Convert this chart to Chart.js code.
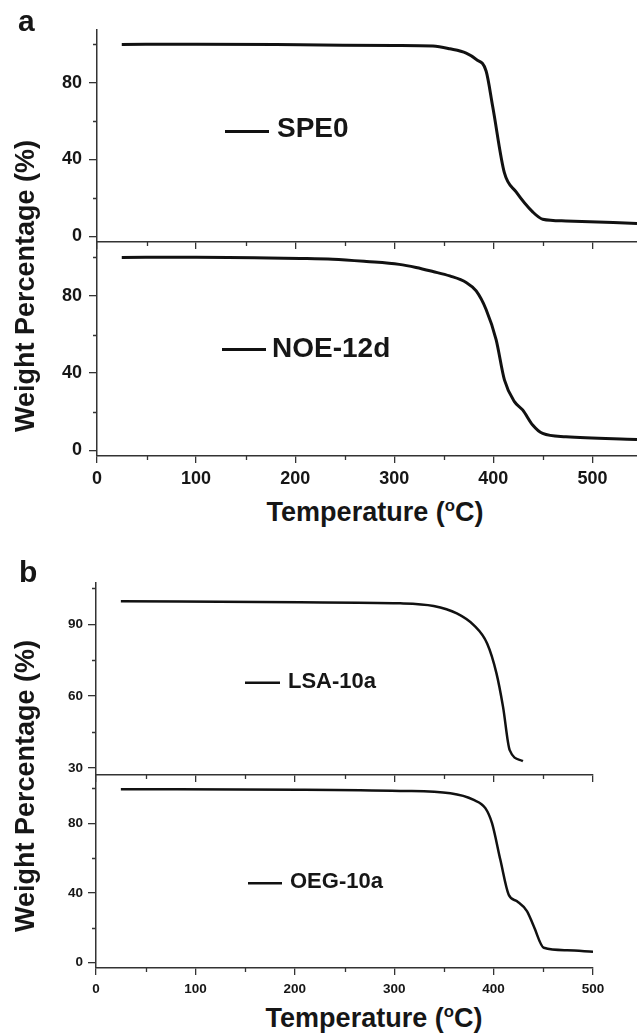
<!DOCTYPE html>
<html>
<head>
<meta charset="utf-8">
<script src="https://cdn.jsdelivr.net/npm/chart.js@4.4.1/dist/chart.umd.min.js"></script>
<style>
    body { margin: 0; background: #fff; }
    #wrap { position: relative; width: 637px; height: 1035px; overflow: hidden; font-family: "Liberation Sans", Arial, Helvetica, sans-serif; color: #161616; }
    canvas { position: absolute; left: 0; }
    .txt { position: absolute; font-weight: bold; line-height: 1; white-space: nowrap; }
    .ytitle { transform: translate(-50%, -50%) rotate(-90deg); }
    .xtitle { transform: translateX(-50%); }
    sup { font-size: 0.62em; line-height: 0; vertical-align: 0.62em; }
</style>
</head>
<body>
<div id="wrap">
    <canvas id="c1" width="637" height="252" style="top:0px"></canvas>
    <canvas id="c2" width="637" height="260" style="top:232px"></canvas>
    <canvas id="c3" width="637" height="232" style="top:553px"></canvas>
    <canvas id="c4" width="637" height="235" style="top:765px"></canvas>

    <div class="txt" style="left:18px; top:6px; font-size:30px;">a</div>
    <div class="txt" style="left:19px; top:557px; font-size:30px;">b</div>
    <div class="txt ytitle" style="left:25px; top:286px; font-size:27px;">Weight Percentage (%)</div>
    <div class="txt ytitle" style="left:25px; top:786px; font-size:27px;">Weight Percentage (%)</div>
    <div class="txt xtitle" style="left:375px; top:499px; font-size:27px;">Temperature (<sup>o</sup>C)</div>
    <div class="txt xtitle" style="left:374px; top:1005px; font-size:27px;">Temperature (<sup>o</sup>C)</div>
</div>
<script>
// TGA curves, temperature (°C) vs weight (%)
const spe0T = [25, 100, 205, 300, 339, 356, 372.6, 382.7, 392.7, 399.4, 411.2, 423, 439.7, 449.8, 473.3, 545];
const spe0W = [100, 100.1, 99.8, 99.4, 99.1, 97.7, 95.5, 92.2, 86.1, 67.5, 33, 23.1, 12.7, 8.9, 8.0, 6.7];

const noeT = [25, 100, 205, 238, 272, 305, 322, 339, 356, 372.6, 382.7, 392.7, 402.8, 411.2, 421.3, 429.6, 439.7, 449.8, 473.3, 545];
const noeW = [100, 100.1, 99.5, 99.1, 97.9, 96.4, 94.8, 92.7, 90.4, 87, 82.6, 73, 57.4, 36.5, 25.2, 20.9, 13.1, 8.7, 7, 5.6];

const lsaT = [25, 205, 306, 339.7, 363, 380, 393.5, 402.9, 409.5, 416.2, 429.5];
const lsaW = [99.7, 99.2, 98.8, 97.7, 94.6, 89.7, 82, 69.5, 55.5, 37.4, 32.8];

const oegT = [25, 205, 306, 356.5, 380, 391.7, 398.4, 406.8, 415.2, 423.6, 433.7, 440.4, 450.5, 474, 500];
const oegW = [99.4, 99.2, 98.5, 97.1, 93.3, 88.6, 80, 59, 39, 35.2, 29.5, 20.9, 8.6, 7.2, 6.3];

const xMajor = [0, 100, 200, 300, 400, 500];
const xMinor = [50, 150, 250, 350, 450];
const yMajorA = [0, 40, 80];
const yMinorA = [20, 60, 100];
const yMajorB1 = [30, 60, 90];
const yMinorB1 = [45, 75, 105];

const axisColor = '#333';
const fontFamily = '"Liberation Sans", Arial, Helvetica, sans-serif';

function toPoints(xs, ys) {
    return xs.map((x, i) => ({ x: x, y: ys[i] }));
}

// short minor ticks + the in-plot sample label
const extras = {
    id: 'extras',
    afterDraw(chart, args, opts) {
        const ctx = chart.ctx;
        const xs = chart.scales.x, ys = chart.scales.y;
        ctx.save();
        ctx.strokeStyle = axisColor;
        ctx.lineWidth = 1.3;
        ctx.beginPath();
        opts.xMinor.forEach(v => {
            const px = Math.round(xs.getPixelForValue(v)) + 0.5;
            ctx.moveTo(px, xs.top);
            ctx.lineTo(px, xs.top + 4);
        });
        opts.yMinor.forEach(v => {
            const py = Math.round(ys.getPixelForValue(v)) + 0.5;
            ctx.moveTo(ys.right, py);
            ctx.lineTo(ys.right - 4, py);
        });
        ctx.stroke();

        const tag = opts.tag;
        ctx.strokeStyle = '#111';
        ctx.lineWidth = tag.lw;
        ctx.beginPath();
        ctx.moveTo(tag.x1, tag.ly);
        ctx.lineTo(tag.x2, tag.ly);
        ctx.stroke();
        ctx.fillStyle = '#161616';
        ctx.font = 'bold ' + tag.size + 'px ' + fontFamily;
        ctx.textBaseline = 'alphabetic';
        ctx.fillText(chart.data.datasets[0].label, tag.tx, tag.base);
        ctx.restore();
    }
};

function makePanel(id, p) {
    return new Chart(document.getElementById(id), {
        type: 'line',
        data: {
            datasets: [{
                label: p.label,
                data: toPoints(p.xs, p.ys),
                borderColor: '#111',
                borderWidth: p.lw,
                pointRadius: 0,
                fill: false,
                cubicInterpolationMode: 'monotone'
            }]
        },
        options: {
            responsive: false,
            animation: false,
            layout: { padding: { top: p.padTop, right: p.padRight, left: 0, bottom: 0 } },
            plugins: {
                legend: { display: false },
                tooltip: { enabled: false },
                extras: { xMinor: xMinor, yMinor: p.yMinor, tag: p.tag }
            },
            scales: {
                x: {
                    type: 'linear',
                    min: 0,
                    max: p.xMax,
                    afterBuildTicks: s => { s.ticks = xMajor.filter(v => v <= p.xMax).map(v => ({ value: v })); },
                    afterFit: s => { s.height = p.xHeight; s.paddingLeft = 0; s.paddingRight = 0; },
                    grid: { drawOnChartArea: false, tickLength: 7, color: axisColor, lineWidth: 1.3 },
                    border: { display: true, color: axisColor, width: 1.5 },
                    ticks: {
                        autoSkip: false,
                        maxRotation: 0,
                        padding: p.xPad,
                        color: '#161616',
                        font: { family: fontFamily, size: p.tickSize, weight: 'bold' },
                        callback: v => p.showX ? String(v) : ''
                    }
                },
                y: {
                    min: p.yMin,
                    max: p.yMax,
                    afterBuildTicks: s => { s.ticks = p.yMajor.map(v => ({ value: v })); },
                    afterFit: s => { s.width = p.yWidth; s.paddingTop = 0; s.paddingBottom = 0; },
                    grid: { drawOnChartArea: false, tickLength: 8, color: axisColor, lineWidth: 1.3 },
                    border: { display: true, color: axisColor, width: 1.5 },
                    ticks: {
                        autoSkip: false,
                        padding: p.yPad,
                        color: '#161616',
                        font: { family: fontFamily, size: p.tickSize, weight: 'bold' }
                    }
                }
            }
        },
        plugins: [extras]
    });
}

makePanel('c1', {
    label: 'SPE0', xs: spe0T, ys: spe0W, lw: 3,
    padTop: 30, padRight: 0, xMax: 545, xHeight: 10, showX: false, xPad: 5,
    yMin: -3, yMax: 107.5, yMajor: yMajorA, yMinor: yMinorA, yWidth: 97, yPad: 7, tickSize: 18,
    tag: { x1: 225, x2: 269, ly: 131.5, tx: 277, base: 137, size: 28, lw: 3 }
});

makePanel('c2', {
    label: 'NOE-12d', xs: noeT, ys: noeW, lw: 3,
    padTop: 10, padRight: 0, xMax: 545, xHeight: 36, showX: true, xPad: 5,
    yMin: -3, yMax: 108, yMajor: yMajorA, yMinor: yMinorA, yWidth: 97, yPad: 7, tickSize: 18,
    tag: { x1: 222, x2: 266, ly: 117.5, tx: 272, base: 124.5, size: 28, lw: 3 }
});

makePanel('c3', {
    label: 'LSA-10a', xs: lsaT, ys: lsaW, lw: 2.5,
    padTop: 30, padRight: 44, xMax: 500, xHeight: 10, showX: false, xPad: 5,
    yMin: 27, yMax: 107.3, yMajor: yMajorB1, yMinor: yMinorB1, yWidth: 96, yPad: 5, tickSize: 13.5,
    tag: { x1: 245, x2: 280, ly: 129.7, tx: 288, base: 135.3, size: 22, lw: 2.5 }
});

makePanel('c4', {
    label: 'OEG-10a', xs: oegT, ys: oegW, lw: 2.5,
    padTop: 10, padRight: 44, xMax: 500, xHeight: 32, showX: true, xPad: 6,
    yMin: -3, yMax: 107.6, yMajor: yMajorA, yMinor: yMinorA, yWidth: 96, yPad: 5, tickSize: 13.5,
    tag: { x1: 248, x2: 282, ly: 118.3, tx: 290, base: 123.3, size: 22, lw: 2.5 }
});
</script>
</body>
</html>
